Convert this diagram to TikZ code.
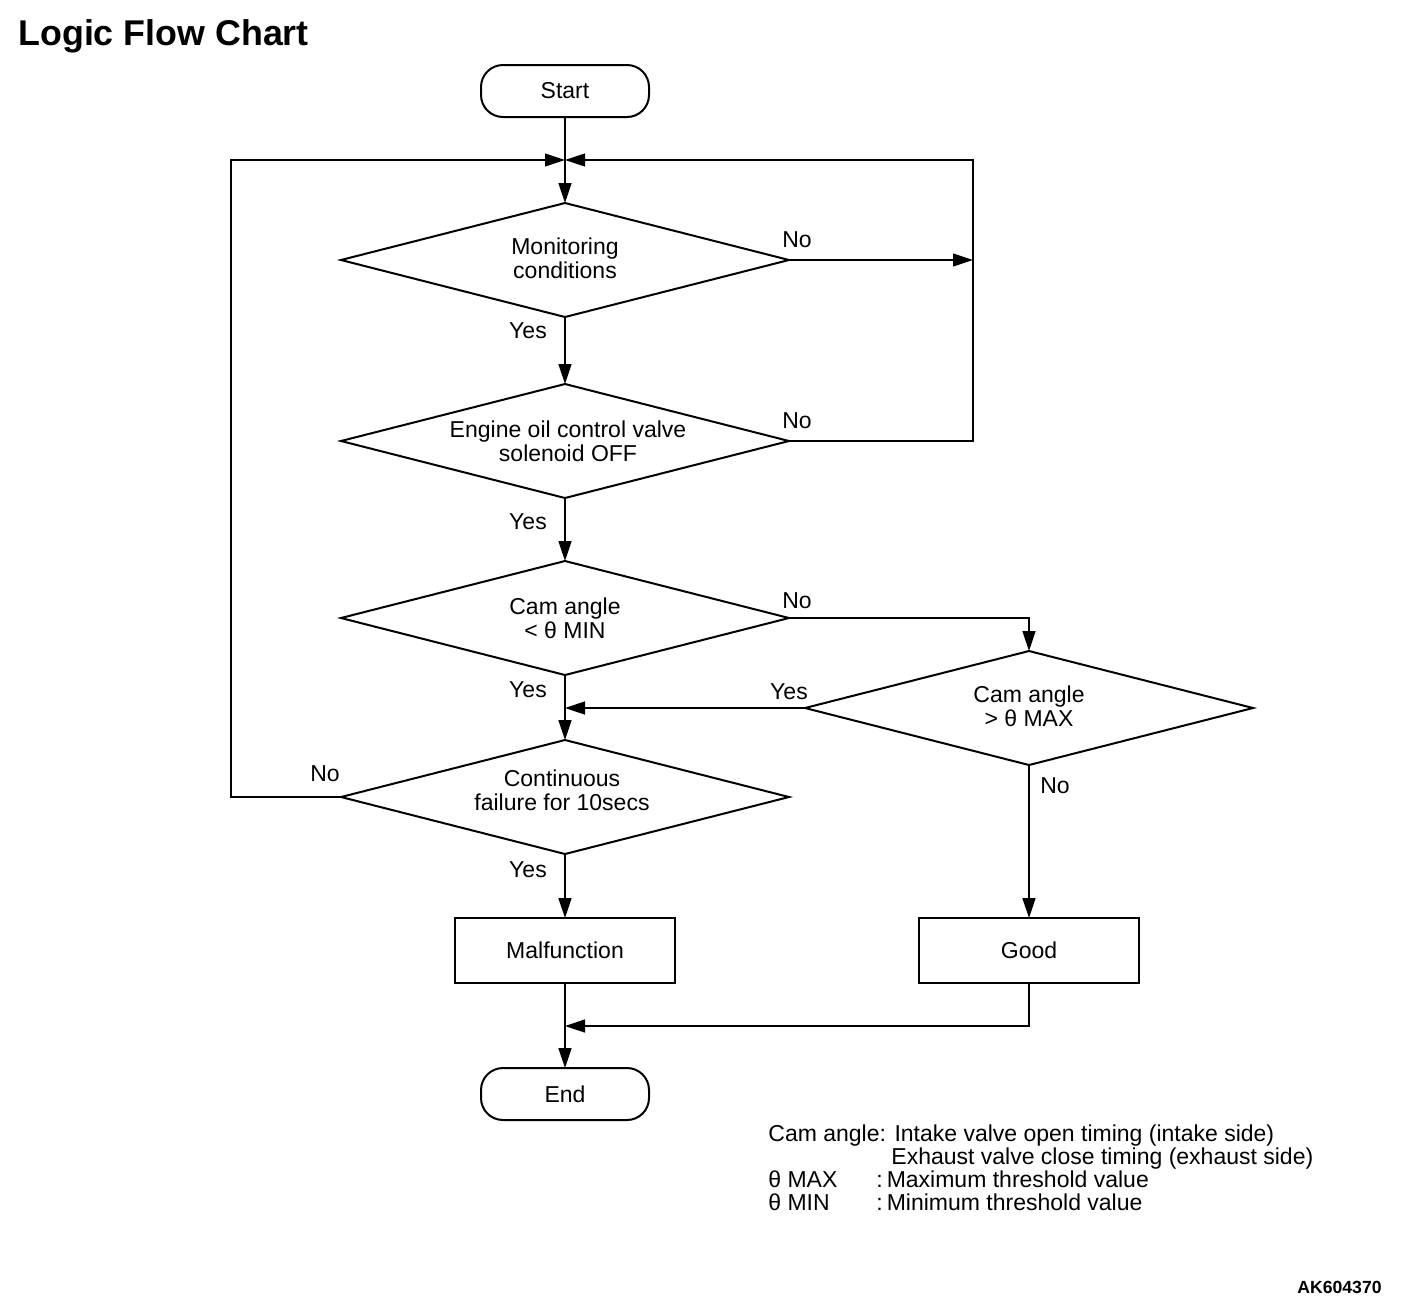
\documentclass[tikz,border=0pt]{standalone}
\usepackage{fontspec}
\setmainfont{Liberation Sans}
\usetikzlibrary{shapes.geometric,arrows.meta}
\newcommand\mainfs{\fontsize{11.5}{11.8}\selectfont}
\begin{document}
\begin{tikzpicture}[x=0.5pt,y=-0.5pt,
  dia/.style={diamond,draw,line width=1pt,minimum width=224pt,minimum height=57pt,inner sep=0pt,outer sep=0pt},
  term/.style={draw,line width=1pt,rounded corners=11pt,minimum width=84pt,minimum height=26pt,inner sep=0pt,outer sep=0pt,font=\mainfs},
  proc/.style={draw,line width=1pt,minimum width=110pt,minimum height=32.5pt,inner sep=0pt,outer sep=0pt,font=\mainfs},
  txt/.style={align=center,font=\mainfs,inner sep=0pt},
  lbl/.style={font=\mainfs,inner sep=0pt},
  note/.style={font=\mainfs,inner sep=0pt,anchor=base west},
  conn/.style={line width=0.8pt,-{Triangle[length=10pt,width=6.5pt]}},
  thinconn/.style={line width=0.55pt,-{Triangle[length=10pt,width=6.5pt]}},
]
\useasboundingbox (0,0) rectangle (1408,1308);

% title
\node[anchor=base west,inner sep=0pt,font=\fontsize{17.9}{20}\selectfont\bfseries] (title) at (18,45) {Logic Flow Chart};

% nodes
\node[term] (start) at (565,91) {Start};
\node[dia] (d1) at (565,260) {};
\node[txt] (t1) at (565,258) {Monitoring\\conditions};
\node[dia] (d2) at (565,441) {};
\node[txt] (t2) at (568,441) {Engine oil control valve\\solenoid OFF};
\node[dia] (d3) at (565,618) {};
\node[txt] (t3) at (565,618) {Cam angle\\{<} θ MIN};
\node[dia] (d4) at (1029,708) {};
\node[txt] (t4) at (1029,706) {Cam angle\\{>} θ MAX};
\node[dia] (d5) at (565,797) {};
\node[txt] (t5) at (562,790) {Continuous\\failure for 10secs};
\node[proc] (malf) at (565,950.5) {Malfunction};
\node[proc] (good) at (1029,950.5) {Good};
\node[term] (end) at (565,1094) {End};

% coordinates
\coordinate (m1) at (565,160);
\coordinate (m2) at (565,708);
\coordinate (m3) at (565,1026);
\coordinate (r1) at (973,260);
\coordinate (r2) at (973,441);
\coordinate (rt) at (973,160);
\coordinate (lt) at (231,160);
\coordinate (lb) at (231,797);

% connectors
\draw[conn] (start) -- (d1.north);
\draw[thinconn] (d1.east) -- (r1);
\draw[thinconn] (d2.east) -- (r2) -- (rt) -- (m1);
\draw[thinconn] (d5.west) -- (lb) -- (lt) -- (m1);
\draw[conn] (d1.south) -- (d2.north);
\draw[conn] (d2.south) -- (d3.north);
\draw[conn] (d3.south) -- (d5.north);
\draw[conn] (d3.east) -| (d4.north);
\draw[conn] (d4.west) -- (m2);
\draw[conn] (d5.south) -- (malf.north);
\draw[conn] (d4.south) -- (good.north);
\draw[conn] (malf.south) -- (end.north);
\draw[conn] (good.south) |- (m3);

% labels
\node[lbl] (l1n) at (797,240) {No};
\node[lbl] (l1y) at (528,331) {Yes};
\node[lbl] (l2n) at (797,421) {No};
\node[lbl] (l2y) at (528,522) {Yes};
\node[lbl] (l3n) at (797,601) {No};
\node[lbl] (l3y) at (528,690) {Yes};
\node[lbl] (l4y) at (789,692) {Yes};
\node[lbl] (l4n) at (1055,786) {No};
\node[lbl] (l5n) at (325,774) {No};
\node[lbl] (l5y) at (528,870) {Yes};

% notes
\node[note] (n1) at (768,1141) {Cam angle: Intake valve open timing (intake side)};
\node[note] (n2) at (891,1164) {Exhaust valve close timing (exhaust side)};
\node[note] (n3a) at (768,1187) {θ MAX};
\node[note] (n3b) at (876,1187) {:\kern2pt Maximum threshold value};
\node[note] (n4a) at (768,1210) {θ MIN};
\node[note] (n4b) at (876,1210) {:\kern2pt Minimum threshold value};

\node[anchor=base east,inner sep=0pt,font=\fontsize{8.8}{10}\selectfont\bfseries] (code) at (1382,1293) {AK604370};
\end{tikzpicture}
\end{document}
